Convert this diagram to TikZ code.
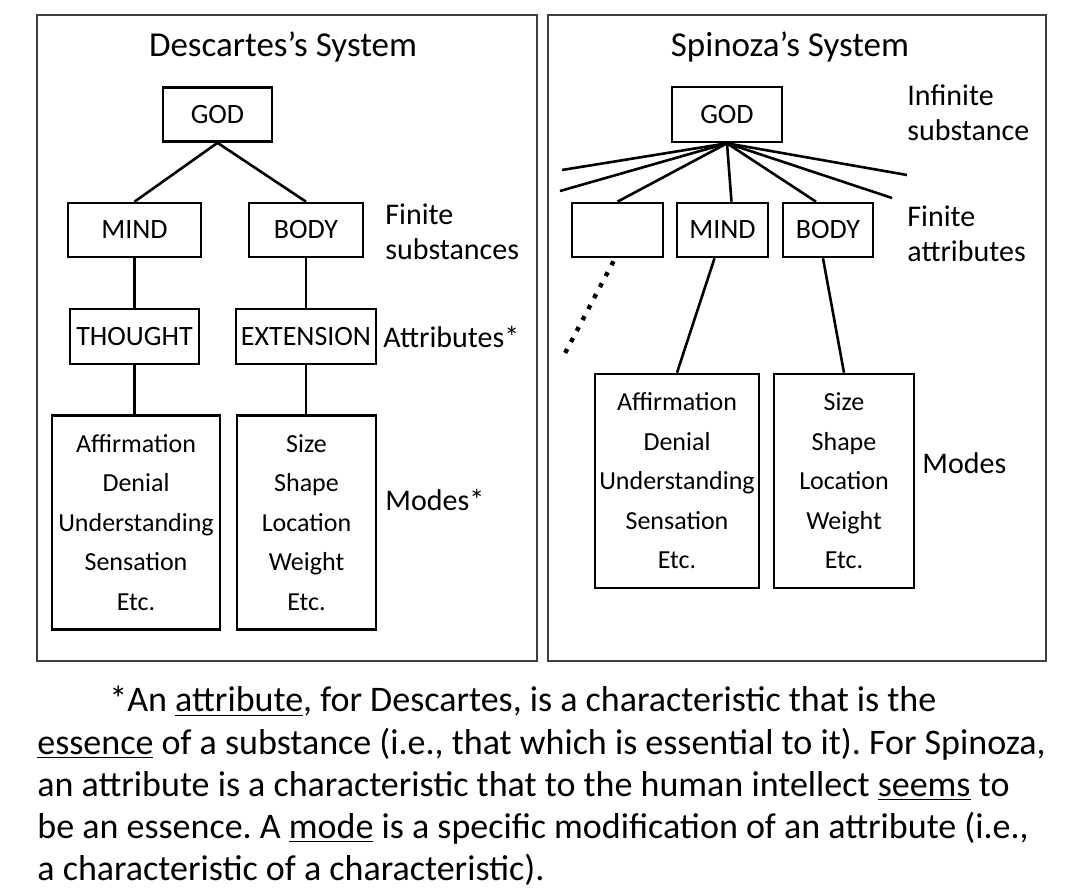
\documentclass[tikz,border=0pt]{standalone}
\usepackage{fontspec}
\setmainfont{Carlito}
\usetikzlibrary{positioning}
\frenchspacing

\begin{document}
\begin{tikzpicture}[
  x=0.5pt, y=-0.5pt,
  every node/.style={font=\fontsize{13}{16}\selectfont},
  panel/.style={draw=black!75, line width=0.6pt},
  box/.style={draw, line width=1.3pt, minimum height=27pt, inner sep=2pt,
    font=\fontsize{14}{17}\selectfont},
  modebox/.style={draw, line width=1.3pt, minimum height=107pt, inner sep=1pt,
    align=center, font=\fontsize{13}{19.75}\selectfont},
  title/.style={font=\fontsize{17.5}{20}\selectfont},
  side/.style={anchor=west, inner sep=0pt, align=left,
    font=\fontsize{15}{17.5}\selectfont},
  link/.style={line width=1.3pt},
  note/.style={anchor=north west, inner sep=0pt, align=left,
    font=\fontsize{18}{21.1}\selectfont}
]
\useasboundingbox (0,0) rectangle (1078,894);
\draw[panel] (37,15) rectangle (537,661);
\draw[panel] (548,15) rectangle (1046,661);

% Descartes
\node[title] (dtitle) at (283,47) {Descartes's System};
\node[box, minimum width=54.5pt] (dgod) at (217.5,114.5) {GOD};
\node[box, minimum width=66.5pt] (dmind) at (134.5,230) {MIND};
\node[box, minimum width=57pt] (dbody) at (306,230) {BODY};
\node[box, minimum width=64.5pt, minimum height=27.5pt] (dthought) at (134.5,336.5) {THOUGHT};
\node[box, minimum width=70pt, minimum height=27.5pt] (dext) at (306,336.5) {EXTENSION};
\node[modebox, minimum width=84pt] (dmodesA) at (136,522.5)
  {Affirmation\\Denial\\Understanding\\Sensation\\Etc.};
\node[modebox, minimum width=69.5pt] (dmodesB) at (306.5,522.5)
  {Size\\Shape\\Location\\Weight\\Etc.};
\node[side] (dfinite) at (385,232) {Finite\\substances};
\node[side] (dattr) at (383,337) {Attributes*};
\node[side] (dmodes) at (385,500) {Modes*};

\draw[link] (dgod.south) -- (dmind.north);
\draw[link] (dgod.south) -- (dbody.north);
\draw[link] (dmind.south) -- (dthought.north);
\draw[link] (dbody.south) -- (dext.north);
\draw[link] (dthought.south) -- (dthought.south |- dmodesA.north);
\draw[link] (dext.south) -- (dext.south |- dmodesB.north);

% Spinoza
\node[title] (stitle) at (790,47) {Spinoza's System};
\node[box, minimum width=55pt, minimum height=27.5pt] (sgod) at (727,114.5) {GOD};
\node[box, minimum width=45.5pt] (sblank) at (617.5,230) {};
\node[box, minimum width=45.5pt] (smind) at (722.5,230) {MIND};
\node[box, minimum width=45pt] (sbody) at (828,230) {BODY};
\node[modebox, minimum width=82pt] (smodesA) at (677,481)
  {Affirmation\\Denial\\Understanding\\Sensation\\Etc.};
\node[modebox, minimum width=70pt] (smodesB) at (844,481)
  {Size\\Shape\\Location\\Weight\\Etc.};
\node[side] (sinf) at (907,113) {Infinite\\substance};
\node[side] (sfinite) at (907,234) {Finite\\attributes};
\node[side] (smodes) at (922,463) {Modes};

\coordinate (sl1) at (562,170);
\coordinate (sl2) at (560,191);
\coordinate (sr1) at (892,198);
\coordinate (sr2) at (907,175);
\coordinate (sdots) at (563,357);

\draw[link] (sgod.south) -- (sl1);
\draw[link] (sgod.south) -- (sl2);
\draw[link] (sgod.south) -- (sblank.north);
\draw[link] (sgod.south) -- ([xshift=4.5pt]smind.north);
\draw[link] (sgod.south) -- ([xshift=-6pt]sbody.north);
\draw[link] (sgod.south) -- (sr1);
\draw[link] (sgod.south) -- (sr2);
\draw[line width=2.2pt, dash pattern=on 2.2pt off 4pt] ([xshift=-2pt,yshift=-1.5pt]sblank.south) -- (sdots);
\draw[link] ([xshift=-4pt]smind.south) -- (smodesA.north);
\draw[link] ([xshift=-2.5pt]sbody.south) -- (smodesB.north);

% footnote
\node[note] (fn) at (37,686) {\hspace*{36pt}*An \underline{attribute}, for Descartes, is a characteristic that is the\\
\underline{essence} of a substance (i.e., that which is essential to it). For Spinoza,\\
an attribute is a characteristic that to the human intellect \underline{seems} to\\
be an essence. A \underline{mode} is a specific modification of an attribute (i.e.,\\
a characteristic of a characteristic).};
\end{tikzpicture}
\end{document}
